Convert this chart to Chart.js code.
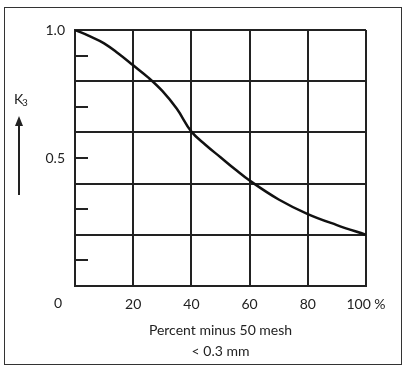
<!DOCTYPE html>
<html>
<head>
<meta charset="utf-8">
<script src="https://cdn.jsdelivr.net/npm/chart.js"></script>
<style>
  body { margin: 0; background: #fff; }
  #wrap { position: relative; width: 405px; height: 373px; }
  #frame { position: absolute; left: 4px; top: 7px; width: 396px; height: 356px; border: 1.5px solid #333; }
</style>
</head>
<body>
<div id="wrap">
  <div id="frame"></div>
  <canvas id="k3Chart"></canvas>
</div>
<script>
// percent minus 50 mesh (< 0.3 mm) vs K3 factor
const percentFines = [0, 5, 10, 15, 20, 25, 30, 35, 40, 45, 50, 55, 60, 70, 80, 90, 100];
const k3Values = [1.0, 0.976, 0.948, 0.907, 0.862, 0.816, 0.762, 0.692, 0.603, 0.55, 0.503, 0.456, 0.412, 0.338, 0.281, 0.238, 0.2];
const xTicks = [0, 20, 40, 60, 80, 100];
const yLabelled = { 10: '1.0', 5: '0.5' };

const ink = '#222';
const font = { family: 'Lato', size: 14 };

// extra bits: "0" at the corner, short inner ticks, K3 label with arrow
const extras = {
    id: 'extras',
    afterDraw(chart) {
        const c = chart.ctx;
        const x = chart.scales.x, y = chart.scales.y;
        c.save();
        c.strokeStyle = ink;
        c.lineWidth = 2;
        [0.9, 0.7, 0.5, 0.3, 0.1].forEach(v => {
            const py = Math.round(y.getPixelForValue(v));
            c.beginPath();
            c.moveTo(x.left, py);
            c.lineTo(x.left + 13, py);
            c.stroke();
        });
        c.fillStyle = ink;
        c.font = '14px Lato';
        c.textAlign = 'center';
        c.textBaseline = 'middle';
        c.fillText('0', x.left - 17, y.bottom + 17);
        // K3
        c.textAlign = 'left';
        c.font = '14px Lato';
        c.fillText('K', 14, 99);
        c.font = '10px Lato';
        c.fillText('3', 22, 103);
        // arrow
        c.lineWidth = 2;
        c.beginPath();
        c.moveTo(19, 195);
        c.lineTo(19, 124);
        c.stroke();
        c.beginPath();
        c.moveTo(19, 116);
        c.lineTo(15, 126);
        c.lineTo(23, 126);
        c.closePath();
        c.fill();
        c.restore();
    }
};

new Chart(document.getElementById('k3Chart'), {
    type: 'line',
    data: {
        datasets: [{
            data: percentFines.map((p, i) => ({ x: p, y: k3Values[i] })),
            borderColor: '#111',
            borderWidth: 2.5,
            pointRadius: 0,
            tension: 0.4,
            fill: false
        }]
    },
    options: {
        responsive: true,
        maintainAspectRatio: false,
        animation: false,
        layout: { padding: { left: 0, top: 30, right: 39, bottom: 0 } },
        plugins: { legend: { display: false }, tooltip: { enabled: false } },
        scales: {
            x: {
                type: 'linear',
                min: 0,
                max: 100,
                afterBuildTicks: s => { s.ticks = xTicks.map(v => ({ value: v })); },
                afterFit: s => { s.height = 87; },
                ticks: {
                    color: ink,
                    font: font,
                    padding: 10,
                    maxRotation: 0,
                    callback: v => v === 0 ? '' : (v === 100 ? '100 %' : String(v))
                },
                grid: { color: ink, lineWidth: 2, drawTicks: false },
                border: { color: ink, width: 2 },
                title: {
                    display: true,
                    text: ['Percent minus 50 mesh', '< 0.3 mm'],
                    color: ink,
                    font: { family: 'Lato', size: 14, lineHeight: 1.5 },
                    padding: { top: 8, bottom: 11.5 }
                }
            },
            y: {
                min: 0,
                max: 1,
                afterFit: s => { s.width = 75; },
                ticks: {
                    stepSize: 0.1,
                    color: ink,
                    font: font,
                    padding: 10,
                    callback: v => yLabelled[Math.round(v * 10)] || ''
                },
                grid: {
                    drawTicks: false,
                    lineWidth: 2,
                    color: c => Math.round(c.tick.value * 10) % 2 === 0 ? ink : 'rgba(0,0,0,0)'
                },
                border: { color: ink, width: 2 }
            }
        }
    },
    plugins: [extras]
});
</script>
</body>
</html>
